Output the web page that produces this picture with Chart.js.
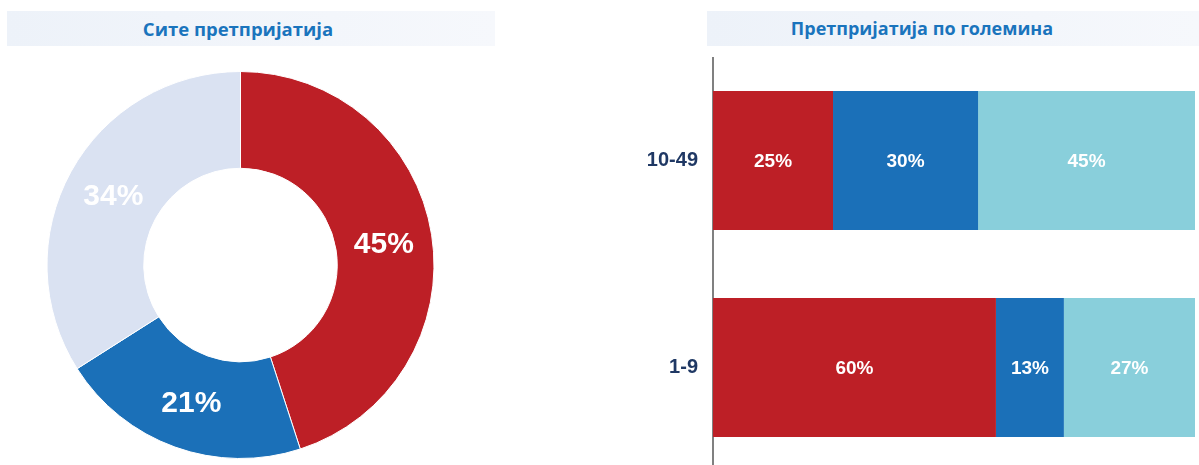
<!DOCTYPE html>
<html>
<head>
<meta charset="utf-8">
<script src="https://cdn.jsdelivr.net/npm/chart.js@4.4.1/dist/chart.umd.min.js"></script>
<style>
  html, body { margin:0; padding:0; background:#fff; width:1199px; height:465px; overflow:hidden; position:relative; }
  .banner { position:absolute; top:11px; height:35px; background:linear-gradient(to right,#edf2f9,#f6f8fc); }
  .banner span { position:absolute; top:0; line-height:35px; font-family:"Open Sans",sans-serif; font-weight:700; font-size:18.5px; color:#1a74bd; white-space:nowrap; transform:translateX(-50%); }
  #c1 { position:absolute; left:46px; top:71px; }
  #c2 { position:absolute; left:620px; top:57px; }
</style>
</head>
<body>
<div class="banner" style="left:7px;width:488px;"><span style="left:231px;">Сите претпријатија</span></div>
<div class="banner" style="left:707px;width:492px;"><span style="left:215px;font-size:18px;">Претпријатија по големина</span></div>
<canvas id="c1" width="389" height="388"></canvas>
<canvas id="c2" width="575" height="414"></canvas>
<script>
// Left: all enterprises
const allLabels = ['A', 'B', 'C'];
const allValues = [45, 21, 34];
const allColors = ['#bd1f26', '#1b70b8', '#dae2f2'];

// Right: by size
const sizeCategories = ['10-49', '1-9'];
const seriesA = [24.9, 58.7];
const seriesB = [30.1, 14.1];
const seriesC = [45.0, 27.2];
const seriesALabels = ['25%', '60%'];
const seriesBLabels = ['30%', '13%'];
const seriesCLabels = ['45%', '27%'];
const barColors = ['#bd1f26', '#1b70b8', '#89cfdb'];

const donutLabelPlugin = {
  id: 'donutLabels',
  afterDatasetsDraw(chart) {
    const ctx = chart.ctx;
    const meta = chart.getDatasetMeta(0);
    ctx.save();
    ctx.font = 'bold 30px "Liberation Sans", Arial, sans-serif';
    ctx.fillStyle = '#ffffff';
    ctx.textAlign = 'center';
    ctx.textBaseline = 'middle';
    meta.data.forEach((arc, i) => {
      const p = arc.tooltipPosition();
      ctx.fillText(allValues[i] + '%', p.x, p.y + 2);
    });
    ctx.restore();
  }
};

new Chart(document.getElementById('c1'), {
  type: 'doughnut',
  data: { labels: allLabels, datasets: [{ data: allValues, backgroundColor: allColors, borderColor: '#ffffff', borderWidth: 1 }] },
  options: {
    responsive: false, animation: false,
    cutout: '50%',
    layout: { padding: 0 },
    plugins: { legend: { display: false }, tooltip: { enabled: false } }
  },
  plugins: [donutLabelPlugin]
});

const barLabelSets = [seriesALabels, seriesBLabels, seriesCLabels];
const barLabelPlugin = {
  id: 'barLabels',
  afterDatasetsDraw(chart) {
    const ctx = chart.ctx;
    ctx.save();
    ctx.font = 'bold 19px "Liberation Sans", Arial, sans-serif';
    ctx.fillStyle = '#ffffff';
    ctx.textAlign = 'center';
    ctx.textBaseline = 'middle';
    chart.data.datasets.forEach((ds, di) => {
      chart.getDatasetMeta(di).data.forEach((bar, i) => {
        const p = bar.getCenterPoint();
        ctx.fillText(barLabelSets[di][i], p.x, p.y + 1);
      });
    });
    ctx.restore();
  }
};

new Chart(document.getElementById('c2'), {
  type: 'bar',
  data: {
    labels: sizeCategories,
    datasets: [
      { data: seriesA, backgroundColor: barColors[0] },
      { data: seriesB, backgroundColor: barColors[1] },
      { data: seriesC, backgroundColor: barColors[2] }
    ]
  },
  options: {
    indexAxis: 'y',
    responsive: false, animation: false,
    layout: { padding: 0 },
    datasets: { bar: { categoryPercentage: 1.0, barPercentage: 0.672, borderWidth: 0 } },
    scales: {
      x: { stacked: true, min: 0, max: 100, display: false },
      y: {
        stacked: true,
        grid: { display: false, drawTicks: false },
        border: { display: true, color: '#808080', width: 2 },
        ticks: { color: '#1f3864', font: { family: '"Liberation Sans", Arial, sans-serif', weight: 'bold', size: 20 }, padding: 15 },
        afterFit(scale) { scale.width = 93; scale.paddingTop = 0; scale.paddingBottom = 0; }
      }
    },
    plugins: { legend: { display: false }, tooltip: { enabled: false } }
  },
  plugins: [barLabelPlugin]
});
</script>
</body>
</html>
